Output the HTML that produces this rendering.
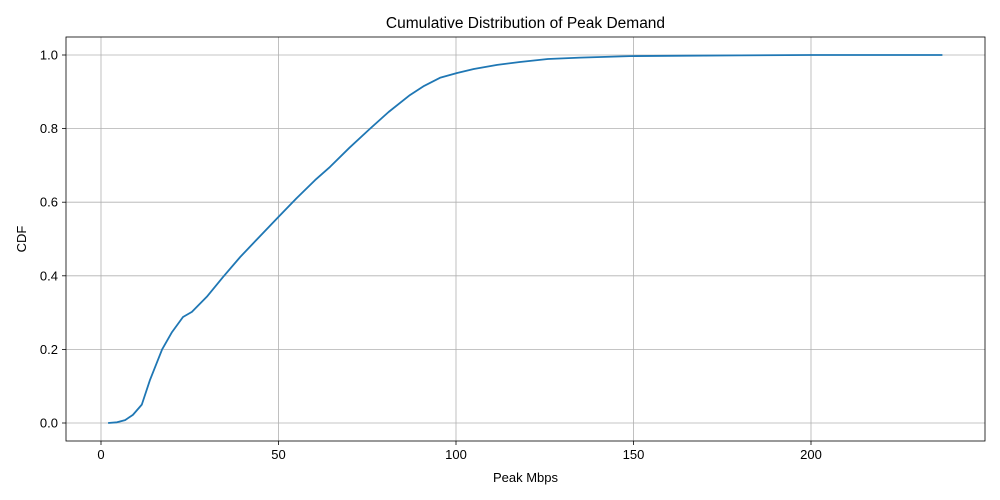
<!DOCTYPE html>
<html><head><meta charset="utf-8"><style>
html,body{margin:0;padding:0;background:#fff;}
svg{display:block;font-family:"Liberation Sans","DejaVu Sans",sans-serif;}
</style></head><body>
<svg id="chart" width="1000" height="500" viewBox="0 0 1000 500"></svg>
<script>
const xTicks=[0,50,100,150,200];
const yTicks=[0.0,0.2,0.4,0.6,0.8,1.0];
const peakMbps=[2,4.5,6.8,9,11.5,13.8,17.2,20,23.1,25.6,29.8,34.4,39.2,44.5,50,55,60.3,64.5,70,75.8,81,87,91,95.5,100.3,105,111.6,118,125.9,135,149,165,180,200,237];
const cdfValues=[0,0.002,0.008,0.022,0.05,0.117,0.2,0.247,0.288,0.302,0.343,0.397,0.451,0.505,0.56,0.61,0.66,0.696,0.748,0.8,0.845,0.891,0.916,0.938,0.951,0.962,0.973,0.981,0.989,0.993,0.997,0.998,0.999,1.0,1.0];

const L=66,R=985,T=37,B=441;
const xs=v=>101+v*(456-101)/100;
const ys=v=>423-v*368;
const svg=document.getElementById('chart');
const NS='http://www.w3.org/2000/svg';
function mk(tag,attrs,parent){const e=document.createElementNS(NS,tag);for(const k in attrs)e.setAttribute(k,attrs[k]);(parent||svg).appendChild(e);return e;}

const grid=mk('g',{});


xTicks.forEach(t=>{
  const l=mk('line',{x1:xs(t),x2:xs(t),y1:T,y2:B,stroke:'#b0b0b0','stroke-width':0.8},grid);
  
  
  const tk=mk('line',{x1:xs(t),x2:xs(t),y1:B,y2:B+4,stroke:'#000','stroke-width':0.8});
  
  
  const tx=mk('text',{x:xs(t),y:B+18,'text-anchor':'middle','font-size':13,fill:'#000'});
  tx.textContent=t;
  
  
});
yTicks.forEach(t=>{
  const l=mk('line',{x1:L,x2:R,y1:ys(t),y2:ys(t),stroke:'#b0b0b0','stroke-width':0.8},grid);
  
  
  const tk=mk('line',{x1:L-4,x2:L,y1:ys(t),y2:ys(t),stroke:'#000','stroke-width':0.8});
  
  
  const tx=mk('text',{x:L-8,y:ys(t)+4.5,'text-anchor':'end','font-size':13,fill:'#000'});
  tx.textContent=t.toFixed(1);
  
  
});

const d=peakMbps.map((v,i)=>(i?'L':'M')+xs(v).toFixed(1)+','+ys(cdfValues[i]).toFixed(1)).join(' ');
const line=mk('path',{d:d,fill:'none',stroke:'#1f77b4','stroke-width':1.8,'stroke-linejoin':'round'});



const frame=mk('rect',{x:L,y:T,width:R-L,height:B-T,fill:'none',stroke:'#000','stroke-width':0.8});



const title=mk('text',{x:(L+R)/2,y:28,'text-anchor':'middle','font-size':15.5,fill:'#000'});
title.textContent='Cumulative Distribution of Peak Demand';



const xl=mk('text',{x:(L+R)/2,y:482,'text-anchor':'middle','font-size':13,fill:'#000'});
xl.textContent='Peak Mbps';



const yl=mk('text',{x:26,y:239,'text-anchor':'middle','font-size':13,fill:'#000',transform:'rotate(-90 26 239)'});
yl.textContent='CDF';


</script>
</body></html>
